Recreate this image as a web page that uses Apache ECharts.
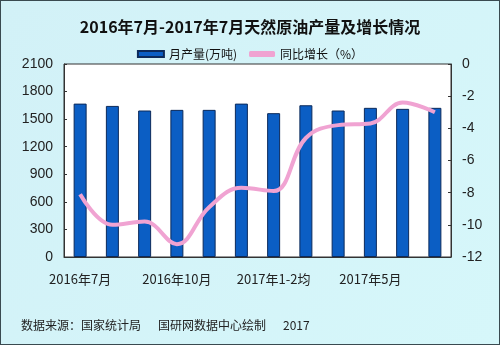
<!DOCTYPE html>
<html>
<head>
<meta charset="utf-8">
<script src="https://cdn.jsdelivr.net/npm/echarts@6/dist/echarts.min.js"></script>
<style>
  html, body { margin: 0; padding: 0; }
  #chart { width: 500px; height: 345px; box-sizing: border-box; border: 1px solid #3a4a50; }
</style>
</head>
<body>
<div id="chart"></div>
<script>
const categories = ['2016年7月', '2016年8月', '2016年9月', '2016年10月', '2016年11月', '2016年12月',
  '2017年1-2均', '2017年3月', '2017年4月', '2017年5月', '2017年6月', '2017年7月'];
const output = [1669, 1644, 1594, 1601, 1601, 1669, 1565, 1651, 1594, 1623, 1612, 1623];
const growth = [-8.1, -10.0, -9.8, -11.2, -8.9, -7.7, -7.9, -4.6, -3.8, -3.7, -2.4, -3.0];
const leftTicks = [0, 300, 600, 900, 1200, 1500, 1800, 2100];
const rightTicks = [-12, -10, -8, -6, -4, -2, 0];

const font = '"Noto Sans CJK SC", "Liberation Sans", sans-serif';
const numFont = '"Liberation Sans", Arial, sans-serif';
const chart = echarts.init(document.getElementById('chart'));
chart.setOption({
  backgroundColor: new echarts.graphic.LinearGradient(0, 0, 1, 1, [
    { offset: 0, color: '#d2f1f7' },
    { offset: 1, color: '#d6f7fa' }
  ]),
  animation: false,
  title: {
    text: '2016年7月-2017年7月天然原油产量及增长情况',
    left: 'center', top: 13,
    textStyle: { fontFamily: font, fontSize: 16, fontWeight: 'bold', color: '#111' }
  },
  legend: {
    top: 42, left: 'center', itemGap: 12, itemWidth: 26, itemHeight: 6,
    textStyle: { fontFamily: font, fontSize: 12, color: '#111' },
    data: [
      { name: '月产量(万吨)', icon: 'rect' },
      { name: '同比增长（%）', icon: 'roundRect' }
    ]
  },
  grid: { left: 63, right: 48, top: 63, bottom: 87, show: true, backgroundColor: '#fff', borderColor: '#333', borderWidth: 1 },
  xAxis: {
    type: 'category', data: categories, boundaryGap: true,
    axisLine: { lineStyle: { color: '#333' } },
    axisTick: { inside: true, length: 4, lineStyle: { color: '#333' } },
    axisLabel: {
      interval: 2, color: '#222', fontFamily: font, fontSize: 13, margin: 16,
      formatter: (v, i) => (i % 3 === 0 ? v : '')
    }
  },
  yAxis: [
    {
      type: 'value', min: leftTicks[0], max: leftTicks[leftTicks.length - 1], interval: 300,
      axisLine: { show: true, lineStyle: { color: '#333' } },
      axisTick: { show: true, inside: true, length: 3, lineStyle: { color: '#333' } },
      axisLabel: { color: '#222', fontFamily: numFont, fontSize: 14, margin: 11, formatter: v => String(v) },
      splitLine: { show: false }
    },
    {
      type: 'value', min: rightTicks[0], max: rightTicks[rightTicks.length - 1], interval: 2,
      axisLine: { show: true, lineStyle: { color: '#333' } },
      axisTick: { show: true, inside: true, length: 3, lineStyle: { color: '#333' } },
      axisLabel: { color: '#222', fontFamily: numFont, fontSize: 14, margin: 11, formatter: v => String(v) },
      splitLine: { show: false }
    }
  ],
  series: [
    {
      name: '月产量(万吨)', type: 'bar', data: output, barWidth: 13, yAxisIndex: 0,
      itemStyle: { color: '#0b5ec4', borderColor: '#0c2a5a', borderWidth: 1 }
    },
    {
      name: '同比增长（%）', type: 'line', data: growth, yAxisIndex: 1, smooth: 0.4,
      symbol: 'none', lineStyle: { color: '#f0a3d2', width: 4 },
      itemStyle: { color: '#f0a3d2' }
    }
  ],
  graphic: [
    { type: 'text', left: 20, top: 318, style: { text: '数据来源：国家统计局', fontFamily: font, fontSize: 12, fill: '#222' } },
    { type: 'text', left: 157, top: 318, style: { text: '国研网数据中心绘制', fontFamily: font, fontSize: 12, fill: '#222' } },
    { type: 'text', left: 282, top: 318, style: { text: '2017', fontFamily: font, fontSize: 12, fill: '#222' } }
  ]
});
</script>
</body>
</html>
